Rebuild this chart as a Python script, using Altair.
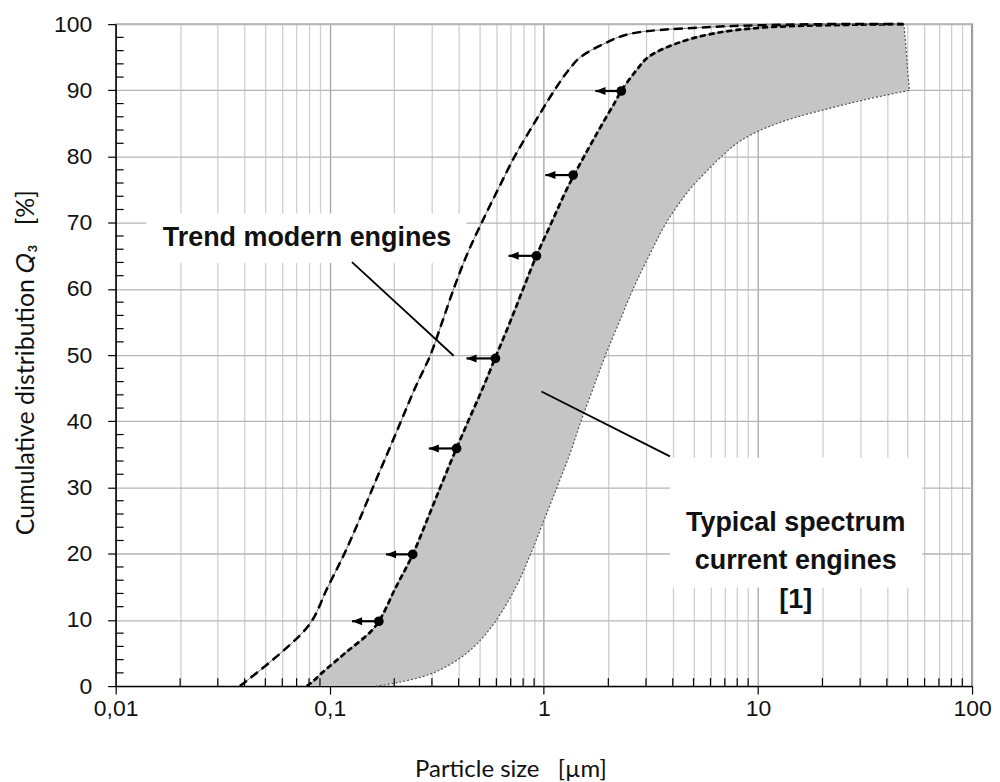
import altair as alt
import pandas as pd

# ---------------- data ----------------
# Typical spectrum current engines [1]: cumulative Q3 levels (%) with the left (dashed)
# and right (dotted) boundary particle sizes (µm); the band's corner at 90 % is listed twice
band_q = [0, 0.5, 2, 5, 9, 15, 20, 25, 30, 35, 40, 45, 50, 55, 60, 65, 70, 75, 77.5, 80, 82.5, 85, 88, 90, 90,
          93, 95, 97, 98.5, 99.5, 100]
band_left = [0.078, 0.082, 0.092, 0.118, 0.163, 0.204, 0.245, 0.284, 0.328, 0.38, 0.443, 0.518, 0.60, 0.695, 0.80,
             0.923, 1.085, 1.276, 1.40, 1.54, 1.70, 1.88, 2.13, 2.30, 2.30, 2.7, 3.07, 4.1, 6.0, 10.7, 48]
band_right = [0.164, 0.205, 0.305, 0.437, 0.571, 0.741, 0.868, 1.0, 1.15, 1.32, 1.49, 1.70, 1.94, 2.25, 2.61,
              3.1, 3.73, 4.79, 5.65, 6.75, 8.4, 12.3, 26.5, 51, 51, 50, 49.5, 49, 48.5, 48.2, 48]

# Trend modern engines (dash-dot curve)
trend_q = [0, 9, 15, 20, 25, 30, 35, 40, 45, 50, 55, 60, 65, 70, 75, 80, 85, 90, 93, 95, 97, 98.5, 99.5, 100, 100]
trend_x = [0.038, 0.079, 0.098, 0.117, 0.137, 0.159, 0.185, 0.215, 0.25, 0.295, 0.335, 0.379, 0.435, 0.512, 0.61,
           0.73, 0.90, 1.12, 1.3, 1.48, 1.9, 2.5, 5.5, 20, 48]

# Markers on the left band edge with arrows pointing to smaller sizes
marker_q = [9.8, 19.9, 35.9, 49.5, 65.0, 77.2, 89.9]
marker_x = [0.1695, 0.244, 0.391, 0.594, 0.923, 1.37, 2.30]
arrow_tip_x = [0.127, 0.183, 0.290, 0.435, 0.684, 1.016, 1.74]

# Axis ticks
x_major = [0.01, 0.1, 1, 10, 100]
x_major_labels = ["0,01", "0,1", "1", "10", "100"]
x_minor = [round(m * d, 4) for d in (0.01, 0.1, 1, 10) for m in range(2, 10)]
y_major = list(range(0, 101, 10))
y_minor = [v for v in range(2, 100, 2) if v % 10]

# Annotations
trend_label = ["Trend modern engines"]
trend_label_x = [0.0783]
trend_label_q = [67.7]
trend_box_x = [0.0139, 0.435]
trend_box_q = [63.9, 71.4]
trend_pointer_x = [0.127, 0.379]
trend_pointer_q = [64.05, 49.9]

typical_label = ["Typical spectrum\ncurrent engines\n[1]"]
typical_label_x = [15.0]
typical_label_q = [24.7]
typical_box_x = [3.88, 58.5]
typical_box_q = [14.9, 34.5]
typical_pointer_x = [0.974, 3.88]
typical_pointer_q = [44.5, 34.7]

# ---------------- tables ----------------
band_df = pd.DataFrame({"q": band_q, "left": band_left, "right": band_right, "i": range(len(band_q))})
trend_df = pd.DataFrame({"q": trend_q, "x": trend_x, "i": range(len(trend_q))})
mark_df = pd.DataFrame({"q": marker_q, "x": marker_x, "tip": arrow_tip_x})
boxes_df = pd.DataFrame({"x": [trend_box_x[0], typical_box_x[0]], "x2": [trend_box_x[1], typical_box_x[1]],
                         "q": [trend_box_q[0], typical_box_q[0]], "q2": [trend_box_q[1], typical_box_q[1]]})
pointers_df = pd.DataFrame({"x": [trend_pointer_x[0], typical_pointer_x[0]], "x2": [trend_pointer_x[1], typical_pointer_x[1]],
                            "q": [trend_pointer_q[0], typical_pointer_q[0]], "q2": [trend_pointer_q[1], typical_pointer_q[1]]})
labels_df = pd.DataFrame({"x": trend_label_x + typical_label_x, "q": trend_label_q + typical_label_q,
                          "t": trend_label + typical_label})
xminor_df = pd.DataFrame({"x": x_minor})
yminor_df = pd.DataFrame({"q": y_minor})

W, H = 859, 664
xscale = alt.Scale(type="log", domain=[0.01, 100], nice=False)
yscale = alt.Scale(domain=[0, 100], nice=False, zero=False)

dec_test = "abs(log(datum.value)/LN10 - round(log(datum.value)/LN10)) < 0.001"
label_expr = ""
for v, lab in zip(x_major, x_major_labels):
    label_expr += f"datum.value == {v} ? '{lab}' : "
label_expr += "''"

xaxis = alt.Axis(
    values=sorted(x_major + x_minor), grid=True,
    gridColor={"condition": {"test": dec_test, "value": "#a4a4a4"}, "value": "#cfcfcf"},
    gridWidth=1.3, tickColor="black", tickSize=8, tickWidth=1.2,
    tickOpacity={"condition": {"test": dec_test, "value": 1}, "value": 0},
    labelExpr=label_expr, labelFont="Liberation Sans", labelFontSize=23, labelColor="#111",
    labelPadding=3, labelOverlap=False, labelFlush=False, labelBound=False,
    domainColor="black", domainWidth=1.3,
    title="Particle size\u00a0\u00a0\u00a0[µm]", titleFont="Lato", titleFontSize=24, titleFontWeight="normal",
    titleColor="#111", titleX=396, titleY=91, titleBaseline="alphabetic", titleAlign="center",
)
yaxis = alt.Axis(
    values=y_major, grid=True, gridColor="#b5b5b5", gridWidth=1.3,
    tickColor="black", tickSize=8, tickWidth=1.2,
    labelFont="Liberation Sans", labelFontSize=23, labelColor="#111", labelPadding=16,
    domainColor="black", domainWidth=1.3,
    title="Cumulative distribution 𝑄₃\u00a0\u00a0\u00a0[%]", titleFont="Lato", titleFontSize=25,
    titleFontWeight="normal", titleColor="#111", titleAngle=270, titleX=-82, titleY=339,
    titleBaseline="alphabetic", titleAlign="center",
)


def X(field):
    return alt.X(field, type="quantitative", scale=xscale, axis=xaxis)


def Y(field):
    return alt.Y(field, type="quantitative", scale=yscale, axis=yaxis)


boxes = alt.Chart(boxes_df).mark_rect(color="white").encode(
    x=X("x"), x2="x2:Q", y=Y("q"), y2="q2:Q")

band = alt.Chart(band_df).mark_area(orient="horizontal", color="#c5c5c5", interpolate="catmull-rom").encode(
    y=Y("q"), x=X("left"), x2="right:Q")

right_line = alt.Chart(band_df).mark_line(color="#555", strokeWidth=1.2, strokeDash=[2, 2],
                                          interpolate="catmull-rom").encode(
    x=X("right"), y=Y("q"), order="i:Q")

left_under = alt.Chart(band_df).mark_line(color="#777", strokeWidth=1, interpolate="catmull-rom").encode(
    x=X("left"), y=Y("q"), order="i:Q")
left_line = alt.Chart(band_df).mark_line(color="black", strokeWidth=2.7, strokeDash=[6, 3],
                                         interpolate="catmull-rom").encode(
    x=X("left"), y=Y("q"), order="i:Q")

trend_under = alt.Chart(trend_df).mark_line(color="#777", strokeWidth=1, interpolate="catmull-rom").encode(
    x=X("x"), y=Y("q"), order="i:Q")
trend_line = alt.Chart(trend_df).mark_line(color="black", strokeWidth=2.5, strokeDash=[9, 5],
                                           interpolate="catmull-rom").encode(
    x=X("x"), y=Y("q"), order="i:Q")

pointers = alt.Chart(pointers_df).mark_rule(color="black", strokeWidth=1.8).encode(
    x=X("x"), x2="x2:Q", y=Y("q"), y2="q2:Q")

shafts = alt.Chart(mark_df).mark_rule(color="black", strokeWidth=2.2).encode(
    x=X("tip"), x2="x:Q", y=Y("q"))
heads = alt.Chart(mark_df).mark_point(shape="M 0 0 L 1.4 -0.55 L 1.4 0.55 Z", filled=True, color="black",
                                      size=210, opacity=1).encode(
    x=X("tip"), y=Y("q"))
dots = alt.Chart(mark_df).mark_circle(color="black", size=95, opacity=1).encode(
    x=X("x"), y=Y("q"))

labels = alt.Chart(labels_df).mark_text(font="Liberation Sans", fontSize=27, fontWeight="bold", color="#111",
                                        align="center", baseline="middle", lineBreak="\n", lineHeight=39).encode(
    x=X("x"), y=Y("q"), text="t:N")

xminor_ticks = alt.Chart(xminor_df).mark_rule(color="black", strokeWidth=1.2).encode(
    x=X("x"), y=alt.value(H), y2=alt.value(H - 8))
yminor_ticks = alt.Chart(yminor_df).mark_rule(color="black", strokeWidth=1.2).encode(
    y=Y("q"), x=alt.value(0), x2=alt.value(8))

chart = alt.layer(
    boxes, band, right_line, left_under, left_line, trend_under, trend_line,
    pointers, shafts, heads, dots, labels, xminor_ticks, yminor_ticks
).properties(
    width=W, height=H,
    autosize=alt.AutoSizeParams(type="none"),
    padding={"left": 108, "top": 15, "right": 20, "bottom": 95},
    background="white",
).configure_view(stroke="black", strokeWidth=1.3)

chart.save("out.html", embed_options={"renderer": "svg", "actions": False})
